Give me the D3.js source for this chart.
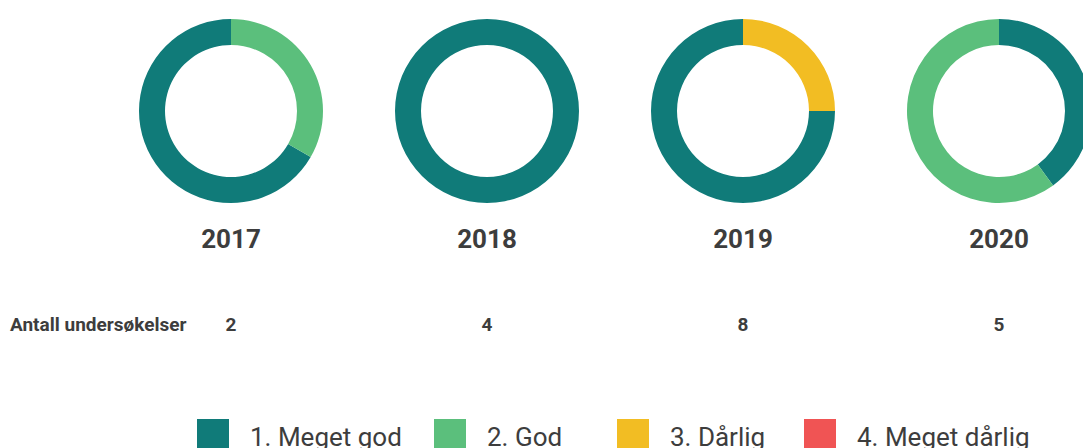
<!DOCTYPE html>
<html>
<head>
<meta charset="utf-8">
<script src="https://cdn.jsdelivr.net/npm/d3@7"></script>
<style>
  html, body { margin: 0; padding: 0; background: #fff; }
  svg { display: block; font-family: Roboto, "Noto Sans", sans-serif; }
</style>
</head>
<body>
<svg id="chart" width="1083" height="448"></svg>
<script>
// Data
var years = ["2017", "2018", "2019", "2020"];
var surveyCounts = [2, 4, 8, 5];
var categories = ["1. Meget god", "2. God", "3. Dårlig", "4. Meget dårlig"];
var colors = ["#107b79", "#5bbf7c", "#f2bd23", "#f05454"];
// values per category, one entry per year
var megetGod = [2, 4, 6, 2];
var god = [1, 0, 0, 3];
var darlig = [0, 0, 2, 0];
var megetDarlig = [0, 0, 0, 0];

var series = [megetGod, god, darlig, megetDarlig];

var svg = d3.select("#chart");
var textColor = "#3d3d3d";

// x position of each donut
var x = d3.scaleBand()
    .domain(years)
    .range([103, 1127])
    .paddingInner(0);

var color = d3.scaleOrdinal().domain(categories).range(colors);

var pie = d3.pie()
    .value(function (d) { return d.value; })
    .sort(function (a, b) { return a.value - b.value; });

var arc = d3.arc()
    .innerRadius(66)
    .outerRadius(92);

years.forEach(function (year, i) {
  var cx = x(year) + x.bandwidth() / 2;
  var slices = categories.map(function (c, k) {
    return { key: c, value: series[k][i] };
  }).filter(function (d) { return d.value > 0; });

  var g = svg.append("g").attr("transform", "translate(" + cx + ",111)");
  g.selectAll("path")
    .data(pie(slices))
    .enter()
    .append("path")
    .attr("d", arc)
    .attr("fill", function (d) { return color(d.data.key); });

  // year label
  svg.append("text")
    .attr("x", cx)
    .attr("y", 248)
    .attr("text-anchor", "middle")
    .style("font-size", "26px")
    .style("font-weight", "bold")
    .style("fill", textColor)
    .text(year);

  // survey count
  svg.append("text")
    .attr("x", cx)
    .attr("y", 331)
    .attr("text-anchor", "middle")
    .style("font-size", "19px")
    .style("font-weight", "bold")
    .style("fill", textColor)
    .text(surveyCounts[i]);
});

svg.append("text")
  .attr("x", 10)
  .attr("y", 331)
  .style("font-size", "19px")
  .style("font-weight", "bold")
  .style("fill", textColor)
  .text("Antall undersøkelser");

// Legend
var legendX = [197, 434, 617, 804];
var legend = svg.selectAll("g.legend")
  .data(categories)
  .enter()
  .append("g")
  .attr("class", "legend")
  .attr("transform", function (d, i) { return "translate(" + legendX[i] + ",419)"; });

legend.append("rect")
  .attr("width", 32)
  .attr("height", 32)
  .attr("fill", function (d) { return color(d); });

legend.append("text")
  .attr("x", 53)
  .attr("y", 27)
  .style("font-size", "26px")
  .style("fill", textColor)
  .text(function (d) { return d; });
</script>
</body>
</html>
